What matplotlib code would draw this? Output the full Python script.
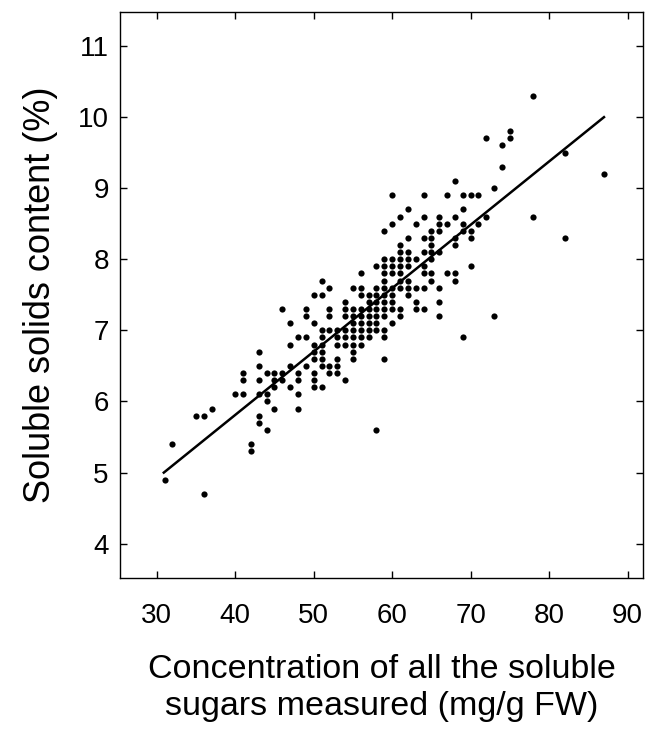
import matplotlib
matplotlib.use("Agg")
import matplotlib.pyplot as plt
import numpy as np

plt.rcParams['font.family'] = ['Liberation Sans', 'DejaVu Sans']

# sugar concentration (mg/g FW) and soluble solids (%)
sugar = [31, 32, 35, 36, 37, 36,
         40, 41, 41, 41, 42, 42,
         43, 43, 43, 43, 43, 43,
         44, 44, 44, 44,
         45, 45, 45, 45,
         46, 46, 46,
         47, 47, 47, 47,
         48, 48, 48, 48, 48,
         49, 49, 49, 49,
         50, 50, 50, 50, 50, 50, 50, 50,
         51, 51, 51, 51, 51, 51, 51, 51, 51,
         52, 52, 52, 52, 52, 52,
         53, 53, 53, 53, 53, 53,
         54, 54, 54, 54, 54, 54, 54,
         55, 55, 55, 55, 55, 55, 55, 55, 55,
         56, 56, 56, 56, 56, 56, 56, 56, 56,
         57, 57, 57, 57, 57, 57, 57,
         58, 58, 58, 58, 58, 58, 58, 58, 58,
         59, 59, 59, 59, 59, 59, 59, 59, 59, 59, 59, 59, 59,
         60, 60, 60, 60, 60, 60, 60, 60, 60, 60,
         61, 61, 61, 61, 61, 61, 61, 61, 61, 61,
         62, 62, 62, 62, 62, 62, 62, 62,
         63, 63, 63, 63, 63,
         64, 64, 64, 64, 64, 64, 64, 64,
         65, 65, 65, 65, 65, 65, 65,
         66, 66, 66, 66, 66, 66, 66,
         67, 67, 67,
         68, 68, 68, 68, 68, 68,
         69, 69, 69, 69, 69,
         70, 70, 70, 70,
         71, 71,
         72, 72,
         73, 73,
         74, 74,
         75, 75,
         78, 78,
         82, 82,
         87]
solids = [4.9, 5.4, 5.8, 5.8, 5.9, 4.7,
          6.1, 6.1, 6.3, 6.4, 5.4, 5.3,
          6.7, 6.5, 6.3, 6.1, 5.8, 5.7,
          6.4, 6.1, 6.0, 5.6,
          6.4, 6.3, 6.2, 5.9,
          6.4, 6.3, 7.3,
          7.1, 6.8, 6.5, 6.2,
          6.9, 6.4, 6.3, 6.1, 5.9,
          7.3, 7.2, 6.9, 6.5,
          7.5, 7.1, 6.8, 6.7, 6.6, 6.4, 6.3, 6.2,
          7.7, 7.5, 7.0, 6.9, 6.8, 6.7, 6.6, 6.5, 6.2,
          7.6, 7.3, 7.2, 7.0, 6.5, 6.4,
          7.0, 6.9, 6.8, 6.6, 6.5, 6.4,
          7.4, 7.3, 7.2, 7.0, 6.9, 6.8, 6.3,
          7.6, 7.3, 7.2, 7.1, 7.0, 6.9, 6.8, 6.7, 6.6,
          7.8, 7.6, 7.5, 7.3, 7.2, 7.1, 7.0, 6.9, 6.8,
          7.5, 7.4, 7.3, 7.2, 7.1, 7.0, 6.9,
          7.9, 7.6, 7.5, 7.4, 7.3, 7.2, 7.1, 7.0, 5.6,
          8.4, 8.0, 7.9, 7.8, 7.7, 7.6, 7.5, 7.4, 7.3, 7.2, 7.0, 6.9, 6.6,
          8.9, 8.5, 8.0, 7.9, 7.8, 7.6, 7.5, 7.4, 7.3, 7.1,
          8.6, 8.2, 8.1, 8.0, 7.9, 7.8, 7.7, 7.6, 7.3, 7.2,
          8.7, 8.3, 8.1, 8.0, 7.9, 7.7, 7.6, 7.5,
          8.5, 8.0, 7.6, 7.4, 7.3,
          8.9, 8.6, 8.3, 8.1, 7.9, 7.8, 7.6, 7.3,
          8.4, 8.3, 8.2, 8.1, 8.0, 7.8, 7.7,
          8.6, 8.5, 8.4, 8.1, 7.6, 7.4, 7.2,
          8.9, 8.5, 7.8,
          9.1, 8.6, 8.3, 8.2, 7.8, 7.7,
          8.9, 8.7, 8.5, 8.4, 6.9,
          8.9, 8.4, 8.3, 7.9,
          8.9, 8.5,
          9.7, 8.6,
          9.0, 7.2,
          9.6, 9.3,
          9.8, 9.7,
          10.3, 8.6,
          9.5, 8.3,
          9.2]

# regression line as drawn in the figure
fit_slope = 0.0891
fit_intercept = 2.247
fit_x_range = [30.9, 87.0]

x_ticks = [30, 40, 50, 60, 70, 80, 90]
y_ticks = [4, 5, 6, 7, 8, 9, 10, 11]

fig = plt.figure(figsize=(6.55, 7.38), dpi=100)
ax = fig.add_axes([0.183, 0.217, 0.799, 0.767])

ax.scatter(sugar, solids, s=20, color='black', linewidths=0, zorder=3)
fx = np.array(fit_x_range)
ax.plot(fx, fit_slope * fx + fit_intercept, color='black', lw=1.8, zorder=4)

ax.set_xlim(25.3, 92.0)
ax.set_ylim(3.52, 11.48)
ax.set_xticks(x_ticks)
ax.set_yticks(y_ticks)
ax.tick_params(direction='in', top=True, right=True, length=5, width=1,
               labelsize=20)
ax.tick_params(axis='x', pad=18)
ax.tick_params(axis='y', pad=8)
for sp in ax.spines.values():
    sp.set_linewidth(1.0)

ax.set_xlabel('Concentration of all the soluble\nsugars measured (mg/g FW)',
              fontsize=24.5, labelpad=18, linespacing=1.25)
ax.set_ylabel('Soluble solids content (%)', fontsize=26, labelpad=14)

fig.savefig('out.png', dpi=100)
